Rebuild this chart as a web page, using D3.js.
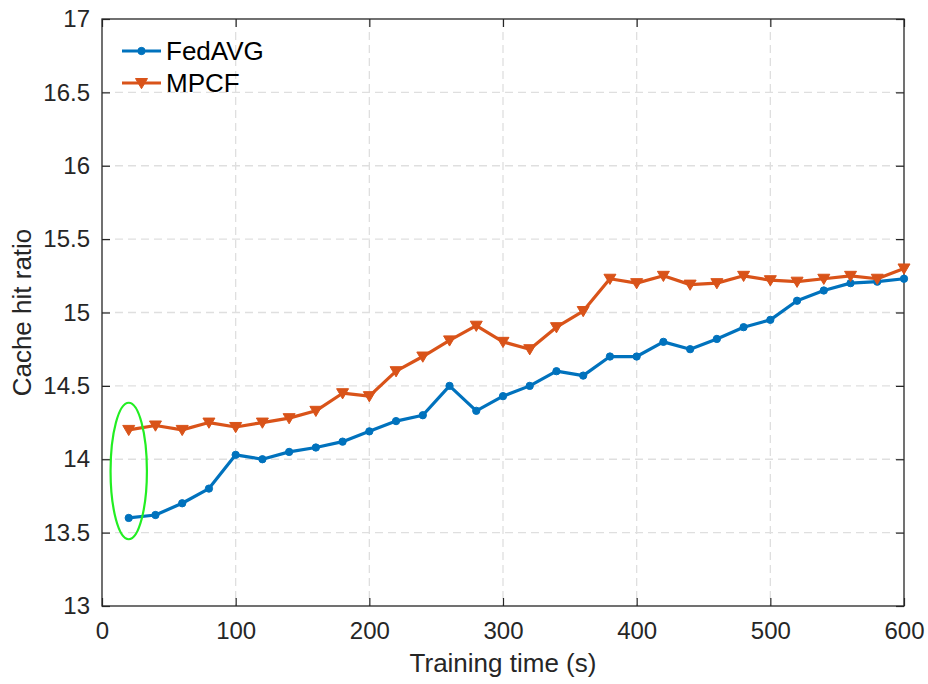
<!DOCTYPE html>
<html>
<head>
<meta charset="utf-8">
<script src="https://cdn.jsdelivr.net/npm/d3@7"></script>
<style>
  html, body { margin: 0; padding: 0; background: #fff; }
  svg { display: block; font-family: "Liberation Sans", Arial, Helvetica, sans-serif; }
</style>
</head>
<body>
<svg id="chart" width="928" height="684"></svg>
<script>
// Training time (s)
const times = [20, 40, 60, 80, 100, 120, 140, 160, 180, 200, 220, 240, 260, 280, 300,
               320, 340, 360, 380, 400, 420, 440, 460, 480, 500, 520, 540, 560, 580, 600];
// Cache hit ratio per method
const fedavg = [13.60, 13.62, 13.70, 13.80, 14.03, 14.00, 14.05, 14.08, 14.12, 14.19,
                14.26, 14.30, 14.50, 14.33, 14.43, 14.50, 14.60, 14.57, 14.70, 14.70,
                14.80, 14.75, 14.82, 14.90, 14.95, 15.08, 15.15, 15.20, 15.21, 15.23];
const mpcf   = [14.20, 14.23, 14.20, 14.25, 14.22, 14.25, 14.28, 14.33, 14.45, 14.43,
                14.60, 14.70, 14.81, 14.91, 14.80, 14.75, 14.90, 15.01, 15.23, 15.20,
                15.25, 15.19, 15.20, 15.25, 15.22, 15.21, 15.23, 15.25, 15.23, 15.30];
const seriesNames = ["FedAVG", "MPCF"];
const xTicks = [0, 100, 200, 300, 400, 500, 600];
const yTicks = [13, 13.5, 14, 14.5, 15, 15.5, 16, 16.5, 17];
// Highlighted region around the first sample (centre and half-extents, data units)
const highlight = { x: 20, y: 13.92, rx: 13.6, ry: 0.465 };

const svg = d3.select("#chart");
const margin = { left: 102, right: 24, top: 19, bottom: 78 };
const W = 928, H = 684;
const iw = W - margin.left - margin.right;
const ih = H - margin.top - margin.bottom;

const x = d3.scaleLinear().domain([0, 600]).range([0, iw]);
const y = d3.scaleLinear().domain([13, 17]).range([ih, 0]);

const g = svg.append("g").attr("transform", `translate(${margin.left},${margin.top})`);
const axisColor = "#262626";

// dashed grid
g.append("g").selectAll("line").data(xTicks.slice(1, -1)).join("line")
  .attr("x1", d => x(d)).attr("x2", d => x(d)).attr("y1", 0).attr("y2", ih)
  .attr("stroke", "#dfdfdf").attr("stroke-width", 1.3).attr("stroke-dasharray", "8,5");
g.append("g").selectAll("line").data(yTicks.slice(1, -1)).join("line")
  .attr("y1", d => y(d)).attr("y2", d => y(d)).attr("x1", 0).attr("x2", iw)
  .attr("stroke", "#dfdfdf").attr("stroke-width", 1.3).attr("stroke-dasharray", "8,5");

// axes with inward ticks
const tickLen = 8;
const xAxis = g.append("g").attr("transform", `translate(0,${ih})`)
  .call(d3.axisBottom(x).tickValues(xTicks).tickSizeInner(-tickLen).tickSizeOuter(0).tickPadding(16));
const yAxis = g.append("g")
  .call(d3.axisLeft(y).tickValues(yTicks).tickFormat(d3.format("~g")).tickSizeInner(-tickLen).tickSizeOuter(0).tickPadding(12));
const xTop = g.append("g")
  .call(d3.axisTop(x).tickValues(xTicks).tickSizeInner(-tickLen).tickSizeOuter(0).tickFormat(""));
const yRight = g.append("g").attr("transform", `translate(${iw},0)`)
  .call(d3.axisRight(y).tickValues(yTicks).tickSizeInner(-tickLen).tickSizeOuter(0).tickFormat(""));

[xAxis, yAxis, xTop, yRight].forEach(a => {
  a.select(".domain").remove();
  a.selectAll("line").attr("stroke", axisColor).attr("stroke-width", 1.2);
  a.selectAll("text").attr("fill", axisColor).style("font-size", "24px")
    .style("font-family", '"Liberation Sans", Arial, Helvetica, sans-serif');
});

// frame
g.append("rect").attr("x", 0).attr("y", 0).attr("width", iw).attr("height", ih)
  .attr("fill", "none").attr("stroke", axisColor).attr("stroke-width", 1.3);

// axis titles
svg.append("text").attr("x", margin.left + iw / 2).attr("y", 672)
  .attr("text-anchor", "middle").attr("fill", axisColor).style("font-size", "26px")
  .text("Training time (s)");
svg.append("text").attr("transform", `translate(31,${margin.top + ih / 2}) rotate(-90)`)
  .attr("text-anchor", "middle").attr("fill", axisColor).style("font-size", "26px")
  .text("Cache hit ratio");

const colors = ["#0072BD", "#D95319"];
const line = d3.line().x(d => x(d[0])).y(d => y(d[1]));
const seriesData = [fedavg, mpcf].map(vals => times.map((t, i) => [t, vals[i]]));

const triangle = s => `M${-s},${-s * 0.75}L${s},${-s * 0.75}L0,${s * 0.95}Z`;

seriesData.forEach((pts, k) => {
  g.append("path").datum(pts).attr("d", line)
    .attr("fill", "none").attr("stroke", colors[k]).attr("stroke-width", 3.2)
    .attr("stroke-linejoin", "round");
  const m = g.append("g").selectAll("path").data(pts).join("path")
    .attr("transform", d => `translate(${x(d[0])},${y(d[1])})`)
    .attr("fill", colors[k]).attr("stroke", colors[k]);
  if (k === 0) m.attr("d", d3.symbol(d3.symbolCircle, 42)());
  else m.attr("d", triangle(6)).attr("stroke-width", 1);
});

// highlight ellipse
g.append("ellipse")
  .attr("cx", x(highlight.x)).attr("cy", y(highlight.y))
  .attr("rx", x(highlight.rx) - x(0)).attr("ry", y(13) - y(13 + highlight.ry))
  .attr("fill", "none").attr("stroke", "#22ee22").attr("stroke-width", 2.2);

// legend
const leg = svg.append("g").attr("transform", "translate(122,51)");
seriesNames.forEach((name, k) => {
  const row = leg.append("g").attr("transform", `translate(0,${k * 32})`);
  row.append("line").attr("x1", 0).attr("x2", 39).attr("y1", 0).attr("y2", 0)
    .attr("stroke", colors[k]).attr("stroke-width", 3.2);
  const mk = row.append("path").attr("transform", "translate(19.5,0)").attr("fill", colors[k]).attr("stroke", colors[k]);
  if (k === 0) mk.attr("d", d3.symbol(d3.symbolCircle, 42)());
  else mk.attr("d", triangle(6));
  row.append("text").attr("x", 44).attr("y", 0).attr("dy", "0.36em")
    .attr("fill", "#000").style("font-size", "26px").text(name);
});
</script>
</body>
</html>
